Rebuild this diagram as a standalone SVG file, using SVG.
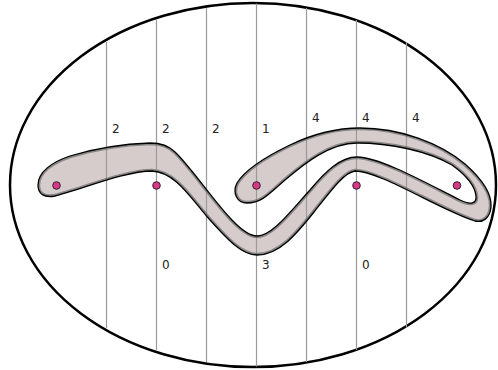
<svg xmlns="http://www.w3.org/2000/svg" xmlns:xlink="http://www.w3.org/1999/xlink" width="498" height="370" viewBox="0 0 498 370">
  <style>
    .vline { stroke: #9a9a9a; stroke-width: 1.2; fill: none; }
    .lbl { font-family: "DejaVu Sans", "Liberation Sans", sans-serif; font-size: 12px; fill: #222; }
    .pt { fill: #d33a88; stroke: #3b1a2b; stroke-width: 1; }
  </style>
  <defs>
    <path id="tube" d="M 38,185 C 38,172 52,162 70,156 C 90,150 120,144 150,143 C 160,143 168,145 175,152 C 200,176 235,236 257,236 C 272,236 290,212 310,190 C 325,172 340,157 357,157 C 380,157 430,185 460,200 C 470,205 477,204 476,196 C 475,185 463,173 452,165 C 428,151 390,143 357,143 C 330,143 305,163 285,180 C 270,193 262,203 247,203 C 237,203 232,193 237,183 C 245,170 265,157 290,145 C 315,133 340,128 360,128 C 400,128 440,143 465,164 C 482,179 492,194 491,207 C 490,218 483,223 475,221 C 440,210 380,171 355,171 C 345,172 333,188 314,212 C 298,232 280,255 257,255 C 242,255 228,240 210,220 C 190,197 175,172 152,171 C 125,171 80,190 55,196 C 44,198 38,194 38,185 Z"/>
    <clipPath id="tubeclip"><use xlink:href="#tube"/></clipPath>
  </defs>
  <rect x="0" y="0" width="498" height="370" fill="#ffffff"/>
  <g id="region">
    <ellipse cx="253" cy="185" rx="243" ry="182" fill="#ffffff" stroke="#000" stroke-width="2.5"/>
  </g>
  <g id="band-fill">
    <use xlink:href="#tube" fill="#d7cccc"/>
  </g>
  <g id="connectors">
    <line class="vline" x1="106.5" y1="42" x2="106.5" y2="328"/>
    <line class="vline" x1="156.5" y1="20" x2="156.5" y2="350"/>
    <line class="vline" x1="206.5" y1="8" x2="206.5" y2="362"/>
    <line class="vline" x1="256.5" y1="3.5" x2="256.5" y2="366.5"/>
    <line class="vline" x1="306.5" y1="8" x2="306.5" y2="362"/>
    <line class="vline" x1="356.5" y1="20" x2="356.5" y2="350"/>
    <line class="vline" x1="406.5" y1="42" x2="406.5" y2="328"/>
  </g>
  <g id="band-outline">
    <use xlink:href="#tube" fill="none" stroke="#6a6a6a" stroke-opacity="0.7" stroke-width="4.5" clip-path="url(#tubeclip)"/>
    <use xlink:href="#tube" fill="none" stroke="#000" stroke-width="1.3"/>
  </g>
  <g id="points">
    <circle class="pt" cx="56.5" cy="185.5" r="3.8"/>
    <circle class="pt" cx="156.5" cy="185.5" r="3.8"/>
    <circle class="pt" cx="256.5" cy="185.5" r="3.8"/>
    <circle class="pt" cx="356.5" cy="185.5" r="3.8"/>
    <circle class="pt" cx="457" cy="185.5" r="3.8"/>
  </g>
  <g id="labels">
    <text class="lbl" x="112" y="133">2</text>
    <text class="lbl" x="162" y="133">2</text>
    <text class="lbl" x="212" y="133">2</text>
    <text class="lbl" x="262" y="133">1</text>
    <text class="lbl" x="312" y="122">4</text>
    <text class="lbl" x="362" y="122">4</text>
    <text class="lbl" x="412" y="122">4</text>
    <text class="lbl" x="162" y="269">0</text>
    <text class="lbl" x="262" y="269">3</text>
    <text class="lbl" x="362" y="269">0</text>
  </g>
</svg>
